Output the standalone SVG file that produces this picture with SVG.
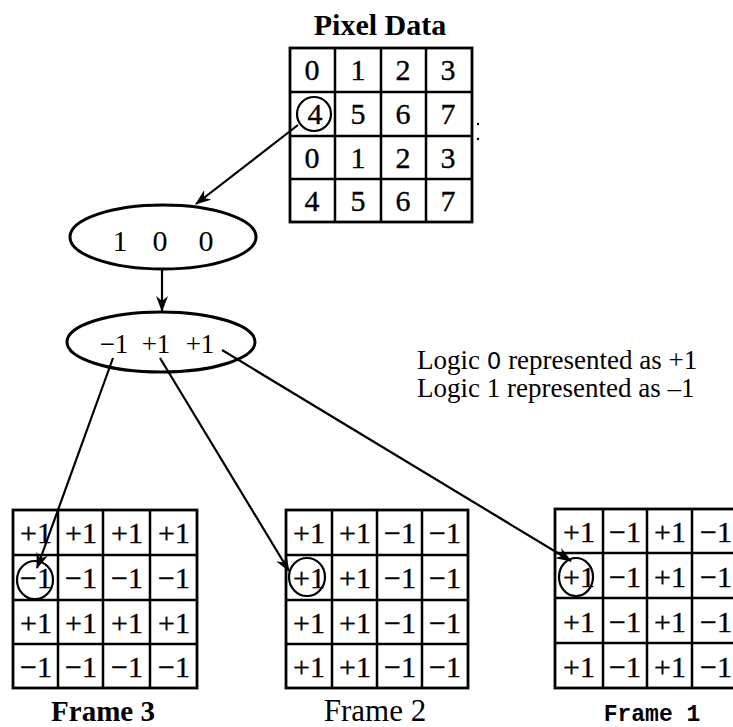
<svg xmlns="http://www.w3.org/2000/svg" width="733" height="727" viewBox="0 0 733 727">
<defs>
<style>
.t{font-family:"Liberation Serif","Times New Roman",serif;fill:#000}
.cell{font-family:"Liberation Serif",serif;font-size:30px;text-anchor:middle;stroke:#000;stroke-width:0.35}
.g{fill:#fff;stroke:#000;stroke-width:2.8}
.ln{stroke:#000;stroke-width:2.5;fill:none}
.ell{fill:#fff;stroke:#000;stroke-width:3}
.circ{fill:none;stroke:#000;stroke-width:2.2}
.arr{stroke:#000;stroke-width:2.2;fill:none}
</style>
<marker id="ah" viewBox="0 0 16 12" refX="15" refY="6" markerWidth="16" markerHeight="12" orient="auto" markerUnits="userSpaceOnUse">
<path d="M0,0 L16,6 L0,12 L5,6 Z" fill="#000"/>
</marker>
</defs>
<rect width="733" height="727" fill="#fff"/>

<g id="pixel-data">
<text class="t" x="380" y="35" font-size="30" font-weight="bold" text-anchor="middle">Pixel Data</text>
<rect class="g" x="290" y="48" width="182" height="174"/>
<path class="ln" d="M335,48V222M381,48V222M426,48V222M290,92H472M290,136H472M290,179H472"/>
<g class="t cell">
<text x="312" y="80">0</text><text x="358" y="80">1</text><text x="403" y="80">2</text><text x="448" y="80">3</text>
<text x="315" y="124">4</text><text x="358" y="124">5</text><text x="403" y="124">6</text><text x="448" y="124">7</text>
<text x="312" y="168">0</text><text x="358" y="168">1</text><text x="403" y="168">2</text><text x="448" y="168">3</text>
<text x="312" y="211">4</text><text x="358" y="211">5</text><text x="403" y="211">6</text><text x="448" y="211">7</text>
</g>
<circle class="circ" cx="314" cy="114" r="17"/>
<circle cx="478" cy="124" r="1.2" fill="#000"/>
<circle cx="478" cy="139" r="1.2" fill="#000"/>
</g>

<g id="bits">
<ellipse class="ell" cx="163" cy="237" rx="93" ry="32"/>
<g class="t" font-size="30" text-anchor="middle">
<text x="120" y="251">1</text><text x="160" y="251">0</text><text x="206" y="251">0</text>
</g>
</g>

<g id="levels">
<ellipse class="ell" cx="161" cy="342" rx="94" ry="30"/>
<g class="t" font-size="27" text-anchor="middle">
<text x="114" y="353">−1</text><text x="156" y="353">+1</text><text x="200" y="353">+1</text>
</g>
</g>

<g id="legend" class="t" font-size="27">
<text x="417" y="369">Logic <tspan font-family="DejaVu Sans,sans-serif" font-size="23">0</tspan> represented as +1</text>
<text x="417" y="397">Logic 1 represented as –1</text>
</g>

<g id="frame3">
<rect class="g" x="13" y="510" width="184" height="178"/>
<path class="ln" d="M58,510V688M103,510V688M150,510V688M13,555H197M13,600H197M13,644H197"/>
<g class="t cell">
<text x="36" y="543">+1</text><text x="81" y="543">+1</text><text x="127" y="543">+1</text><text x="174" y="543">+1</text>
<text x="36" y="588">−1</text><text x="81" y="588">−1</text><text x="127" y="588">−1</text><text x="174" y="588">−1</text>
<text x="36" y="633">+1</text><text x="81" y="633">+1</text><text x="127" y="633">+1</text><text x="174" y="633">+1</text>
<text x="36" y="677">−1</text><text x="81" y="677">−1</text><text x="127" y="677">−1</text><text x="174" y="677">−1</text>
</g>
<ellipse class="circ" cx="35" cy="580" rx="18" ry="19"/>
<text class="t" x="103" y="721" font-size="29" font-weight="bold" text-anchor="middle">Frame 3</text>
</g>

<g id="frame2">
<rect class="g" x="286" y="510" width="182" height="178"/>
<path class="ln" d="M332,510V688M377,510V688M422,510V688M286,555H468M286,600H468M286,644H468"/>
<g class="t cell">
<text x="309" y="543">+1</text><text x="355" y="543">+1</text><text x="400" y="543">−1</text><text x="445" y="543">−1</text>
<text x="309" y="588">+1</text><text x="355" y="588">+1</text><text x="400" y="588">−1</text><text x="445" y="588">−1</text>
<text x="309" y="633">+1</text><text x="355" y="633">+1</text><text x="400" y="633">−1</text><text x="445" y="633">−1</text>
<text x="309" y="677">+1</text><text x="355" y="677">+1</text><text x="400" y="677">−1</text><text x="445" y="677">−1</text>
</g>
<ellipse class="circ" cx="307" cy="577" rx="18" ry="19"/>
<text class="t" x="375" y="721" font-size="31" text-anchor="middle">Frame 2</text>
</g>

<g id="frame1">
<rect class="g" x="555" y="509" width="182" height="179"/>
<path class="ln" d="M603,509V688M647,509V688M692,509V688M555,553H737M555,598H737M555,643H737"/>
<g class="t cell">
<text x="579" y="542">+1</text><text x="625" y="542">−1</text><text x="670" y="542">+1</text><text x="716" y="542">−1</text>
<text x="579" y="587">+1</text><text x="625" y="587">−1</text><text x="670" y="587">+1</text><text x="716" y="587">−1</text>
<text x="579" y="632">+1</text><text x="625" y="632">−1</text><text x="670" y="632">+1</text><text x="716" y="632">−1</text>
<text x="579" y="677">+1</text><text x="625" y="677">−1</text><text x="670" y="677">+1</text><text x="716" y="677">−1</text>
</g>
<ellipse class="circ" cx="576" cy="577" rx="17" ry="19"/>
<text x="652" y="721" font-family="Liberation Mono,monospace" font-size="23" font-weight="bold" text-anchor="middle">Frame 1</text>
</g>

<g id="connectors" class="arr" marker-end="url(#ah)">
<line x1="298" y1="125" x2="196" y2="204"/>
<line x1="162" y1="269" x2="162" y2="311"/>
<line x1="113" y1="358" x2="37" y2="568"/>
<line x1="160" y1="358" x2="289" y2="571"/>
<line x1="222" y1="350" x2="571" y2="561"/>
</g>
</svg>
